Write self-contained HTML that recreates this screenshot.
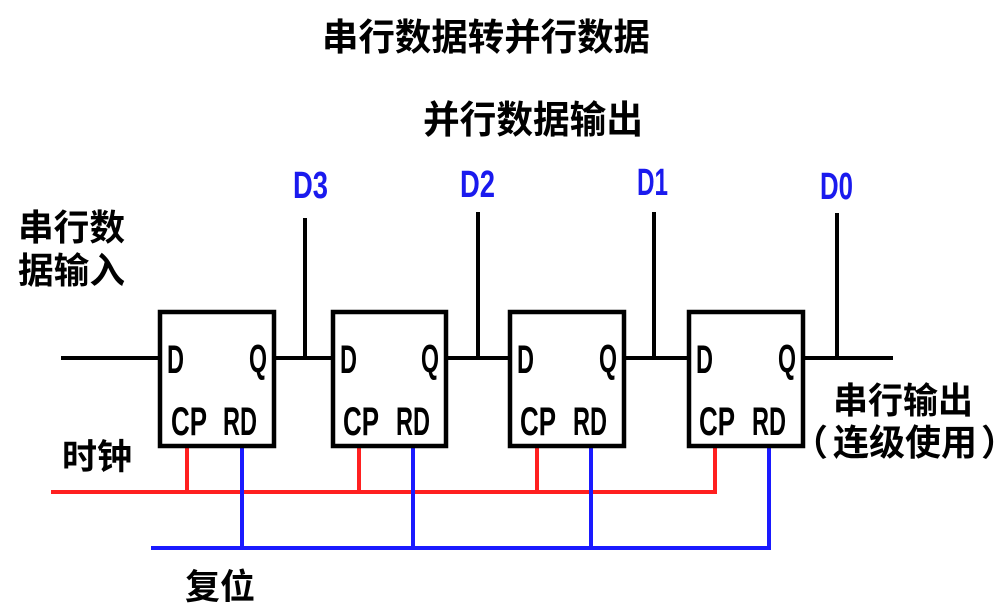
<!DOCTYPE html>
<html>
<head>
<meta charset="utf-8">
<style>
html,body{margin:0;padding:0;background:#fff;}
svg{display:block;}
.cjk{font-family:"Liberation Sans","Noto Sans CJK SC","WenQuanYi Zen Hei",sans-serif;font-weight:bold;fill:#000;}
.lat{font-family:"Liberation Sans",sans-serif;font-weight:bold;fill:#000;}
.blue{fill:#1a1aee;}
</style>
</head>
<body>
<svg width="1000" height="609" viewBox="0 0 1000 609" xmlns="http://www.w3.org/2000/svg">
  <rect width="1000" height="609" fill="#fff"/>

  <!-- Titles -->
  <text class="cjk" x="322" y="50" font-size="37" textLength="328" lengthAdjust="spacingAndGlyphs">串行数据转并行数据</text>
  <text class="cjk" x="423" y="133" font-size="38" textLength="220" lengthAdjust="spacingAndGlyphs">并行数据输出</text>

  <!-- Left label -->
  <text class="cjk" x="18" y="240" font-size="36" textLength="107" lengthAdjust="spacingAndGlyphs">串行数</text>
  <text class="cjk" x="18" y="283" font-size="36" textLength="107" lengthAdjust="spacingAndGlyphs">据输入</text>

  <!-- Clock / reset labels -->
  <text class="cjk" x="62" y="469" font-size="35" textLength="70" lengthAdjust="spacingAndGlyphs">时钟</text>
  <text class="cjk" x="185" y="599" font-size="35" textLength="70" lengthAdjust="spacingAndGlyphs">复位</text>

  <!-- Serial out label -->
  <text class="cjk" x="833" y="413" font-size="36" textLength="140" lengthAdjust="spacingAndGlyphs">串行输出</text>
  <text class="cjk" x="792" y="455" font-size="36">（</text>
  <text class="cjk" x="833" y="455" font-size="36" textLength="144" lengthAdjust="spacingAndGlyphs">连级使用</text>
  <text class="cjk" x="981" y="455" font-size="36">）</text>

  <!-- D labels -->
  <text class="lat blue" x="293" y="198" font-size="38" textLength="35" lengthAdjust="spacingAndGlyphs">D3</text>
  <text class="lat blue" x="460" y="197" font-size="38" textLength="35" lengthAdjust="spacingAndGlyphs">D2</text>
  <text class="lat blue" x="637" y="195" font-size="38" textLength="31" lengthAdjust="spacingAndGlyphs">D1</text>
  <text class="lat blue" x="820" y="199" font-size="38" textLength="33" lengthAdjust="spacingAndGlyphs">D0</text>

  <!-- Colored buses -->
  <g stroke="#ff2020" stroke-width="4" fill="none" stroke-linecap="square">
    <line x1="53" y1="492" x2="715" y2="492"/>
    <line x1="187" y1="448" x2="187" y2="492"/>
    <line x1="359" y1="448" x2="359" y2="492"/>
    <line x1="537" y1="448" x2="537" y2="492"/>
    <line x1="715" y1="448" x2="715" y2="492"/>
  </g>
  <g stroke="#1a1aff" stroke-width="4" fill="none" stroke-linecap="square">
    <line x1="153" y1="548" x2="769" y2="548"/>
    <line x1="242" y1="448" x2="242" y2="548"/>
    <line x1="413" y1="448" x2="413" y2="548"/>
    <line x1="591" y1="448" x2="591" y2="548"/>
    <line x1="769" y1="448" x2="769" y2="548"/>
  </g>

  <!-- Black wires -->
  <g stroke="#000" stroke-width="4" fill="none">
    <line x1="61" y1="358" x2="160" y2="358"/>
    <line x1="274" y1="358" x2="333" y2="358"/>
    <line x1="446" y1="358" x2="510" y2="358"/>
    <line x1="624" y1="358" x2="689" y2="358"/>
    <line x1="803" y1="358" x2="893" y2="358"/>
    <line x1="305" y1="218" x2="305" y2="358"/>
    <line x1="478" y1="212" x2="478" y2="358"/>
    <line x1="654" y1="212" x2="654" y2="358"/>
    <line x1="837" y1="213" x2="837" y2="358"/>
  </g>

  <!-- Flip-flops -->
  <g stroke="#000" stroke-width="4.5" fill="#fff">
    <rect x="160" y="312" width="114" height="134"/>
    <rect x="333" y="312" width="113" height="134"/>
    <rect x="510" y="312" width="114" height="134"/>
    <rect x="689" y="312" width="114" height="134"/>
  </g>

  <!-- Box labels -->
  <g class="lat" font-size="40">
    <text x="167" y="373" textLength="17" lengthAdjust="spacingAndGlyphs">D</text>
    <text x="249" y="372" textLength="18" lengthAdjust="spacingAndGlyphs">Q</text>
    <text x="171" y="435" textLength="36" lengthAdjust="spacingAndGlyphs">CP</text>
    <text x="223" y="435" textLength="34" lengthAdjust="spacingAndGlyphs">RD</text>

    <text x="340" y="373" textLength="17" lengthAdjust="spacingAndGlyphs">D</text>
    <text x="421" y="372" textLength="18" lengthAdjust="spacingAndGlyphs">Q</text>
    <text x="343" y="435" textLength="36" lengthAdjust="spacingAndGlyphs">CP</text>
    <text x="396" y="435" textLength="34" lengthAdjust="spacingAndGlyphs">RD</text>

    <text x="517" y="373" textLength="17" lengthAdjust="spacingAndGlyphs">D</text>
    <text x="599" y="372" textLength="18" lengthAdjust="spacingAndGlyphs">Q</text>
    <text x="520" y="435" textLength="36" lengthAdjust="spacingAndGlyphs">CP</text>
    <text x="573" y="435" textLength="34" lengthAdjust="spacingAndGlyphs">RD</text>

    <text x="696" y="373" textLength="17" lengthAdjust="spacingAndGlyphs">D</text>
    <text x="778" y="372" textLength="18" lengthAdjust="spacingAndGlyphs">Q</text>
    <text x="699" y="435" textLength="36" lengthAdjust="spacingAndGlyphs">CP</text>
    <text x="752" y="435" textLength="34" lengthAdjust="spacingAndGlyphs">RD</text>
  </g>
</svg>
</body>
</html>
